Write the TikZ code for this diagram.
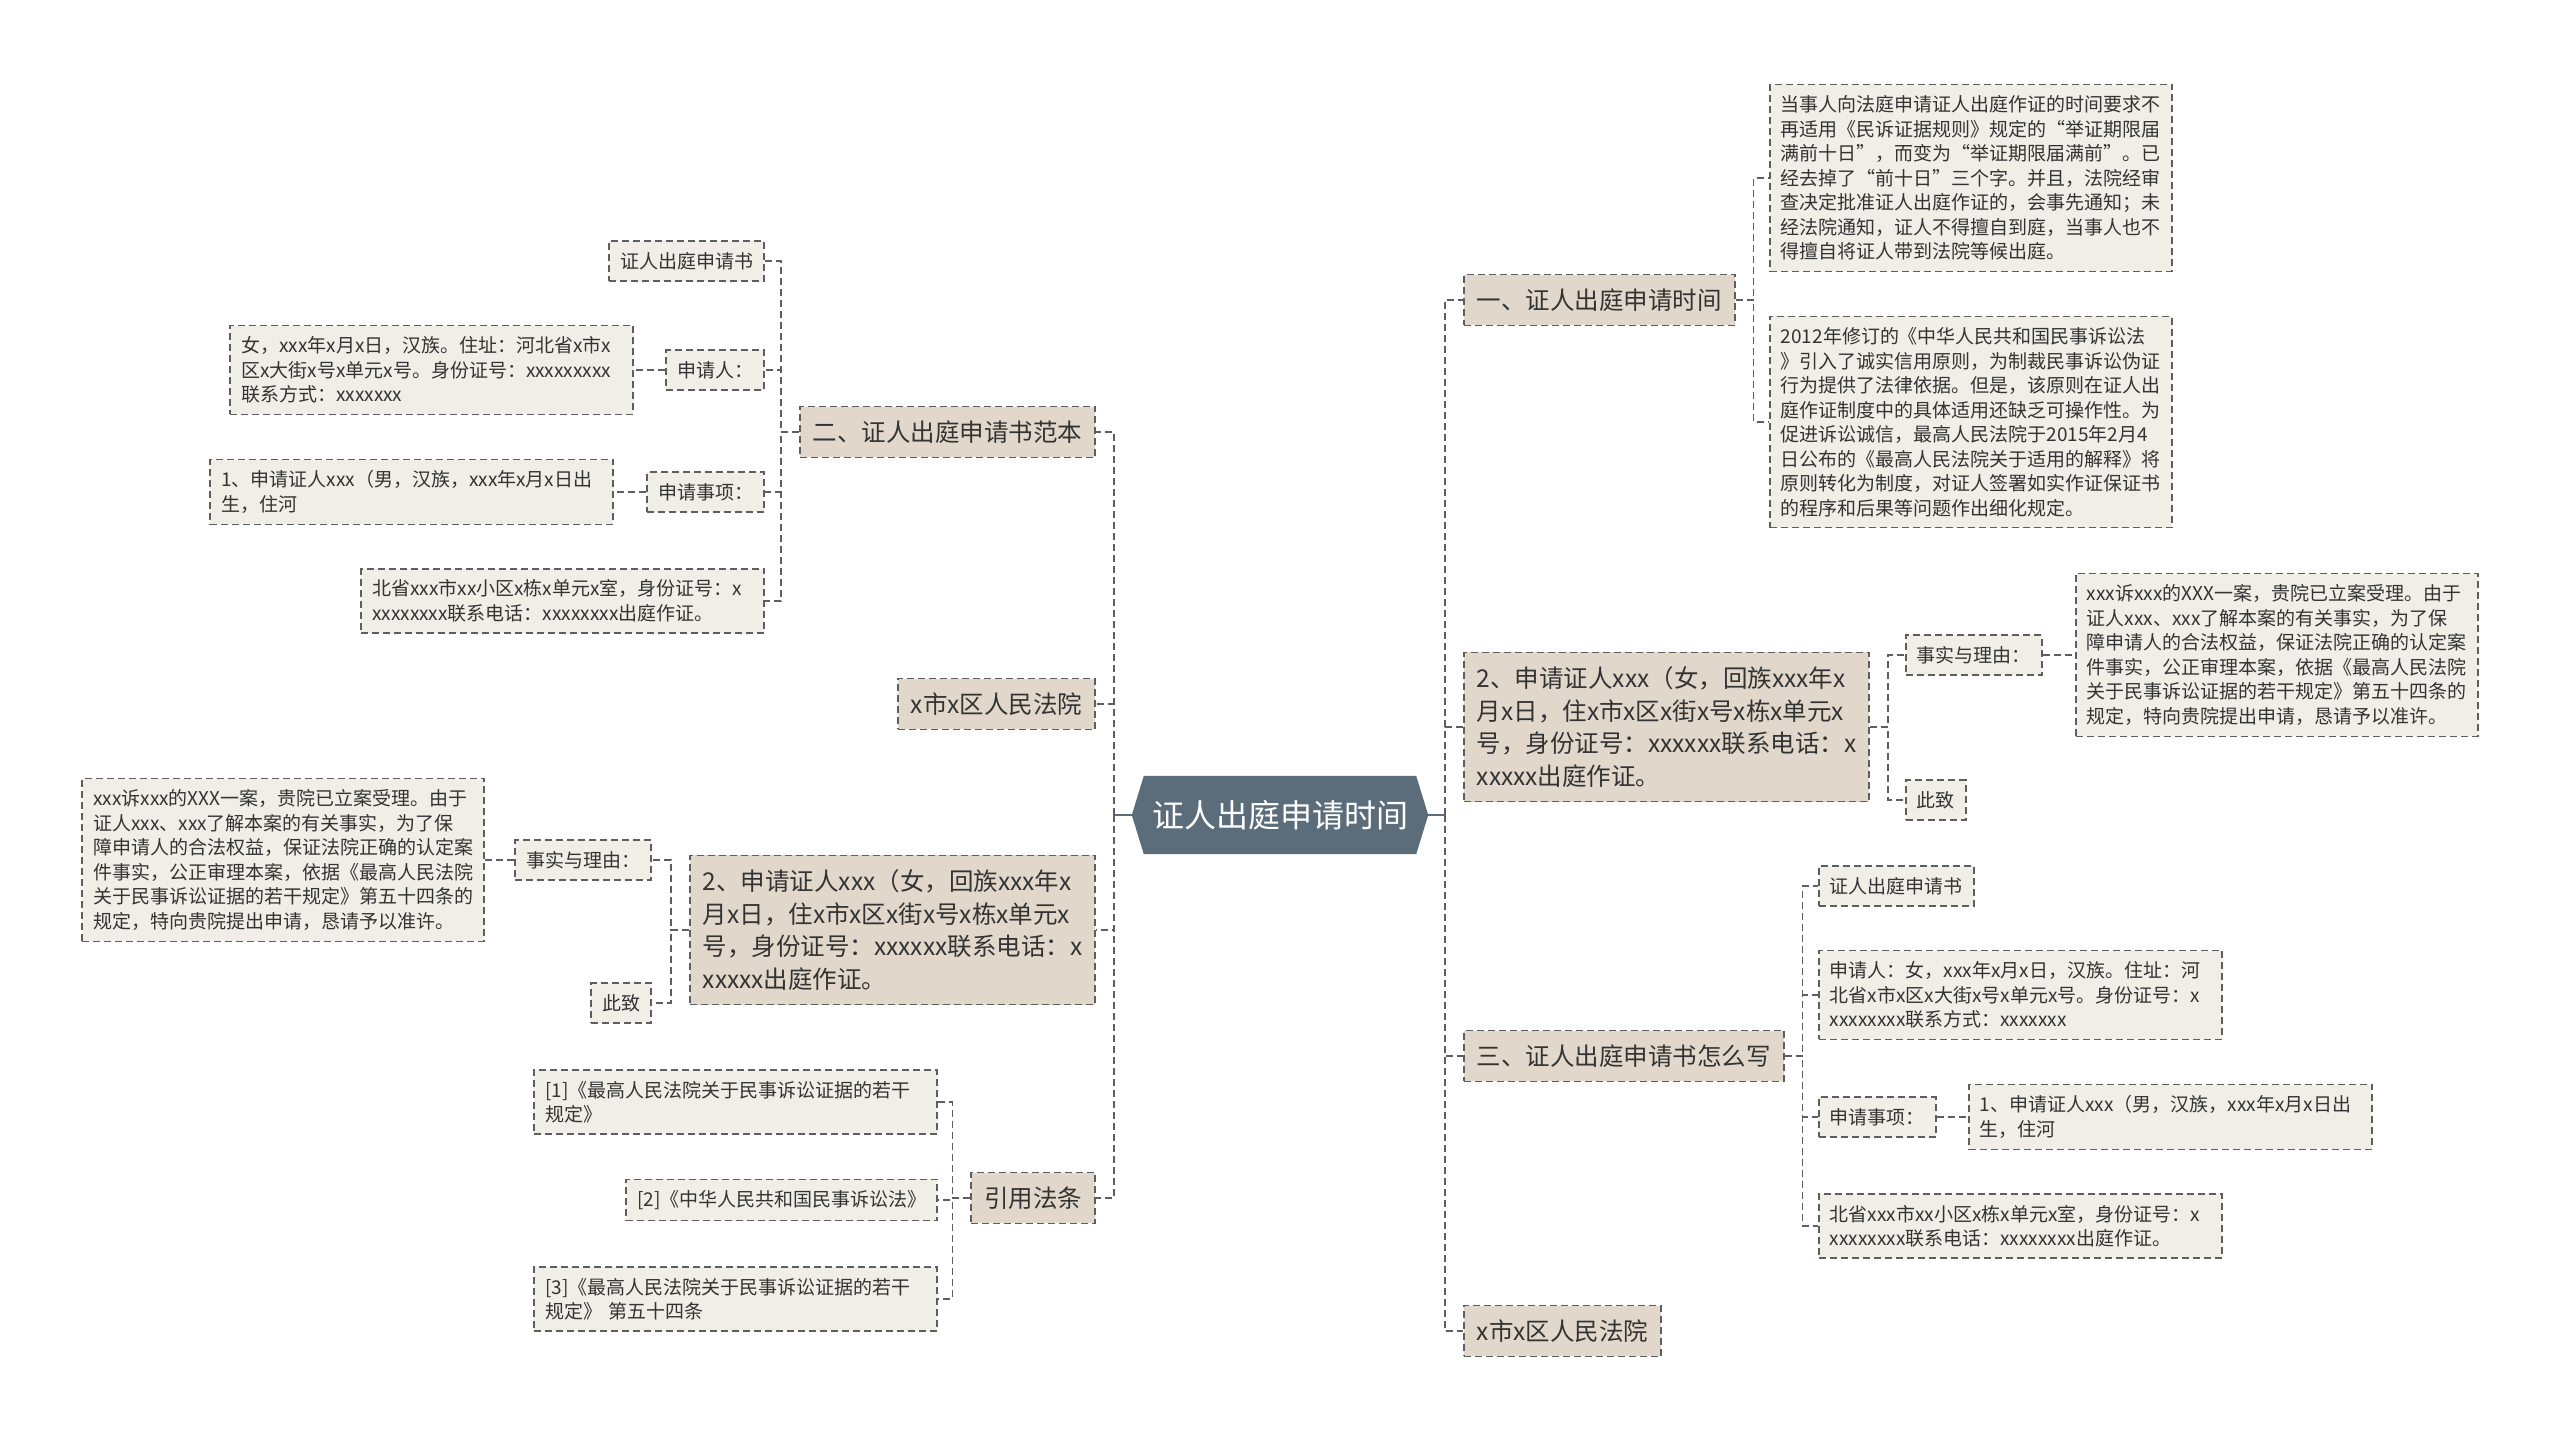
\documentclass[tikz,border=0pt]{standalone}
\usepackage{fontspec}
\newfontfamily\cjk{Noto Sans CJK SC}
\usetikzlibrary{backgrounds}
\definecolor{rootFill}{HTML}{5B6D7A}
\definecolor{topicFill}{HTML}{E1D8CB}
\definecolor{leafFill}{HTML}{F1EEE7}
\definecolor{lineCol}{HTML}{5E5E5E}
\definecolor{textCol}{HTML}{333333}
\tikzset{
  mmfig/.style={x=1pt, y=-1pt},
  rootText/.style={font=\cjk\fontsize{32}{38}\selectfont, text=white,
    minimum width=296pt, minimum height=78pt, inner sep=0pt},
  dashBox/.style={draw=lineCol, line width=1.6pt, dash pattern=on 7pt off 4pt,
    text=textCol, align=left},
  topicBox/.style={dashBox, fill=topicFill, font=\cjk\fontsize{24.5}{32.7}\selectfont,
    inner xsep=13pt, inner ysep=14pt},
  leafBox/.style={dashBox, fill=leafFill, font=\cjk\fontsize{19}{24.5}\selectfont,
    inner xsep=11pt, inner ysep=11pt},
  leafWide/.style={leafBox, text width=381pt},
  link/.style={draw=lineCol, line width=1.6pt, dash pattern=on 7pt off 4pt},
  rootLink/.style={draw=rootFill, line width=2.5pt},
}
\def\Elbow{18}
\def\RtopX{1463}
\def\LtopX{1096}

\begin{document}
\begin{tikzpicture}[mmfig]
  \useasboundingbox (0,0) rectangle (2560,1441);

  % ----- central topic -----
  \node[rootText] (Root) at (1280,815) {证人出庭申请时间};
  \coordinate (LJ) at (1114,815);
  \coordinate (RJ) at (1445,815);

  % ----- right branches -----
  \node[topicBox, anchor=west] (R1) at (\RtopX,300) {一、证人出庭申请时间};
  \node[topicBox, anchor=west] (R2) at (\RtopX,727)
    {2、申请证人xxx（女，回族xxx年x\\月x日，住x市x区x街x号x栋x单元x\\号，身份证号：xxxxxx联系电话：x\\xxxxx出庭作证。};
  \node[topicBox, anchor=west] (R3) at (\RtopX,1056) {三、证人出庭申请书怎么写};
  \node[topicBox, anchor=west] (R4) at (\RtopX,1331) {x市x区人民法院};

  % children of R1
  \node[leafBox, anchor=west] (R1a) at (1769,178)
    {当事人向法庭申请证人出庭作证的时间要求不\\再适用《民诉证据规则》规定的“举证期限届\\满前十日”，而变为“举证期限届满前”。已\\经去掉了“前十日”三个字。并且，法院经审\\查决定批准证人出庭作证的，会事先通知；未\\经法院通知，证人不得擅自到庭，当事人也不\\得擅自将证人带到法院等候出庭。};
  \node[leafBox, anchor=west] (R1b) at (1769,422)
    {2012年修订的《中华人民共和国民事诉讼法\\》引入了诚实信用原则，为制裁民事诉讼伪证\\行为提供了法律依据。但是，该原则在证人出\\庭作证制度中的具体适用还缺乏可操作性。为\\促进诉讼诚信，最高人民法院于2015年2月4\\日公布的《最高人民法院关于适用的解释》将\\原则转化为制度，对证人签署如实作证保证书\\的程序和后果等问题作出细化规定。};

  % children of R2
  \node[leafBox, anchor=west] (R2a) at (1905,655) {事实与理由：};
  \node[leafBox, anchor=west] (R2a1) at (2075,655)
    {xxx诉xxx的XXX一案，贵院已立案受理。由于\\证人xxx、xxx了解本案的有关事实，为了保\\障申请人的合法权益，保证法院正确的认定案\\件事实，公正审理本案，依据《最高人民法院\\关于民事诉讼证据的若干规定》第五十四条的\\规定，特向贵院提出申请，恳请予以准许。};
  \node[leafBox, anchor=west] (R2b) at (1905,800) {此致};

  % children of R3
  \node[leafBox, anchor=west] (R3a) at (1818,886) {证人出庭申请书};
  \node[leafWide, anchor=west] (R3b) at (1818,995)
    {申请人：女，xxx年x月x日，汉族。住址：河\\北省x市x区x大街x号x单元x号。身份证号：x\\xxxxxxxx联系方式：xxxxxxx};
  \node[leafBox, anchor=west] (R3c) at (1818,1117) {申请事项：};
  \node[leafWide, anchor=west] (R3c1) at (1968,1117)
    {1、申请证人xxx（男，汉族，xxx年x月x日出\\生，住河};
  \node[leafWide, anchor=west] (R3d) at (1818,1226)
    {北省xxx市xx小区x栋x单元x室，身份证号：x\\xxxxxxxx联系电话：xxxxxxxx出庭作证。};

  % ----- left branches -----
  \node[topicBox, anchor=east] (L1) at (\LtopX,432) {二、证人出庭申请书范本};
  \node[topicBox, anchor=east] (L2) at (\LtopX,704) {x市x区人民法院};
  \node[topicBox, anchor=east] (L3) at (\LtopX,930)
    {2、申请证人xxx（女，回族xxx年x\\月x日，住x市x区x街x号x栋x单元x\\号，身份证号：xxxxxx联系电话：x\\xxxxx出庭作证。};
  \node[topicBox, anchor=east] (L4) at (\LtopX,1198) {引用法条};

  % children of L1
  \node[leafBox, anchor=east] (L1a) at (765,261) {证人出庭申请书};
  \node[leafBox, anchor=east] (L1b) at (765,370) {申请人：};
  \node[leafWide, anchor=east] (L1b1) at (634,370)
    {女，xxx年x月x日，汉族。住址：河北省x市x\\区x大街x号x单元x号。身份证号：xxxxxxxxx\\联系方式：xxxxxxx};
  \node[leafBox, anchor=east] (L1c) at (765,492) {申请事项：};
  \node[leafWide, anchor=east] (L1c1) at (614,492)
    {1、申请证人xxx（男，汉族，xxx年x月x日出\\生，住河};
  \node[leafWide, anchor=east] (L1d) at (765,601)
    {北省xxx市xx小区x栋x单元x室，身份证号：x\\xxxxxxxx联系电话：xxxxxxxx出庭作证。};

  % children of L3
  \node[leafBox, anchor=east] (L3a) at (652,860) {事实与理由：};
  \node[leafBox, anchor=east] (L3a1) at (485,860)
    {xxx诉xxx的XXX一案，贵院已立案受理。由于\\证人xxx、xxx了解本案的有关事实，为了保\\障申请人的合法权益，保证法院正确的认定案\\件事实，公正审理本案，依据《最高人民法院\\关于民事诉讼证据的若干规定》第五十四条的\\规定，特向贵院提出申请，恳请予以准许。};
  \node[leafBox, anchor=east] (L3b) at (652,1003) {此致};

  % children of L4
  \node[leafWide, anchor=east] (L4a) at (938,1102)
    {[1]《最高人民法院关于民事诉讼证据的若干\\规定》};
  \node[leafBox, anchor=east, text width=289pt] (L4b) at (938,1200)
    {[2]《中华人民共和国民事诉讼法》};
  \node[leafWide, anchor=east] (L4c) at (938,1299)
    {[3]《最高人民法院关于民事诉讼证据的若干\\规定》 第五十四条};

  % ----- connectors -----
  \draw[rootLink] (Root.west) -- (LJ);
  \draw[rootLink] (Root.east) -- (RJ);
  \foreach \n in {L1,L2,L3,L4} \draw[link] (LJ) |- (\n.east);
  \foreach \n in {R1,R2,R3,R4} \draw[link] (RJ) |- (\n.west);

  \foreach \n in {R1a,R1b} \draw[link] (R1.east) -- ++(\Elbow,0) |- (\n.west);
  \foreach \n in {R2a,R2b} \draw[link] (R2.east) -- ++(\Elbow,0) |- (\n.west);
  \foreach \n in {R3a,R3b,R3c,R3d} \draw[link] (R3.east) -- ++(\Elbow,0) |- (\n.west);
  \foreach \n in {L1a,L1b,L1c,L1d} \draw[link] (L1.west) -- ++(-\Elbow,0) |- (\n.east);
  \foreach \n in {L3a,L3b} \draw[link] (L3.west) -- ++(-\Elbow,0) |- (\n.east);
  \foreach \n in {L4a,L4b,L4c} \draw[link] (L4.west) -- ++(-\Elbow,0) |- (\n.east);

  \draw[link] (R2a.east) -- (R2a1.west);
  \draw[link] (R3c.east) -- (R3c1.west);
  \draw[link] (L1b.west) -- (L1b1.east);
  \draw[link] (L1c.west) -- (L1c1.east);
  \draw[link] (L3a.west) -- (L3a1.east);

  % ----- background and hexagon -----
  \begin{scope}[on background layer]
    \fill[white] (0,0) rectangle (2560,1441);
    \fill[rootFill] (Root.west) -- ([xshift=12pt]Root.north west)
      -- ([xshift=-12pt]Root.north east) -- (Root.east)
      -- ([xshift=-12pt]Root.south east) -- ([xshift=12pt]Root.south west) -- cycle;
  \end{scope}
\end{tikzpicture}
\end{document}
